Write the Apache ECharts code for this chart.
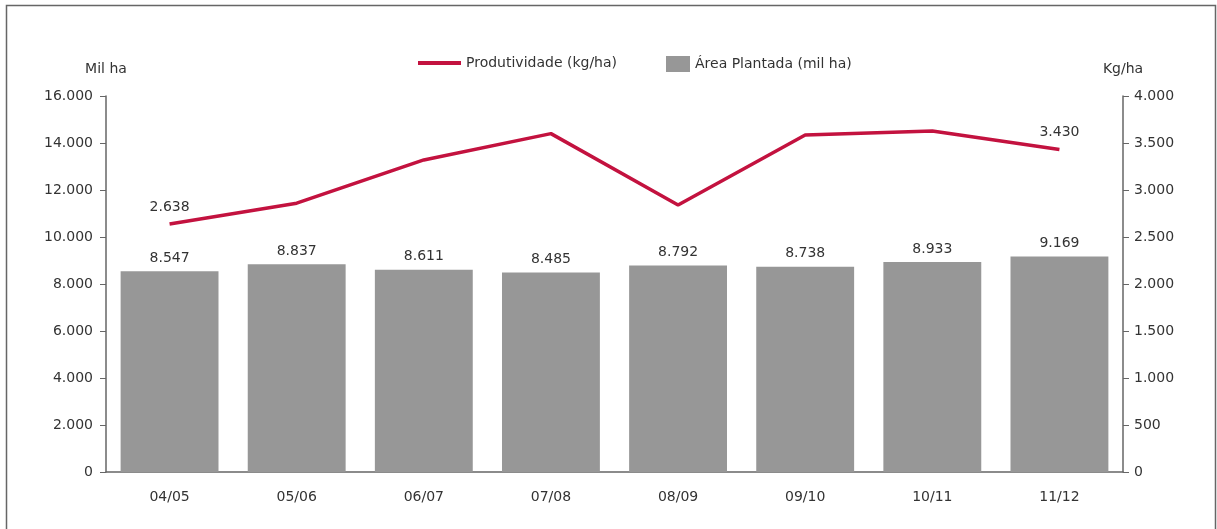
<!DOCTYPE html>
<html>
<head>
<meta charset="utf-8">
<script src="https://cdn.jsdelivr.net/npm/echarts@6/dist/echarts.min.js"></script>
<style>
  html, body { margin: 0; padding: 0; background: #fff; }
  #chart { width: 1217px; height: 529px; }
</style>
</head>
<body>
<div id="chart"></div>
<script>
const safras = ['04/05', '05/06', '06/07', '07/08', '08/09', '09/10', '10/11', '11/12'];
const areaPlantada = [8547, 8837, 8611, 8485, 8792, 8738, 8933, 9169];
const produtividade = [2638, 2860, 3320, 3600, 2840, 3585, 3628, 3430];
const labelProdutividade = [0, 7]; // only first and last points are labelled

const fmt = v => String(Math.round(v)).replace(/\B(?=(\d{3})+(?!\d))/g, '.');
const font = 'DejaVu Sans, Liberation Sans, Arial, sans-serif';
const txt = '#333';

const chart = echarts.init(document.getElementById('chart'));

chart.setOption({
  animation: false,
  textStyle: { fontFamily: font },
  graphic: [{
    type: 'rect',
    shape: { x: 6.5, y: 5.5, width: 1209, height: 600 },
    style: { fill: 'none', stroke: '#666', lineWidth: 1.5 },
    silent: true
  }],
  legend: [
    {
      data: ['Produtividade (kg/ha)'],
      left: 413, top: 51,
      icon: 'rect', itemWidth: 43, itemHeight: 4, itemGap: 8,
      textStyle: { color: txt, fontSize: 14, fontFamily: font }
    },
    {
      data: ['Área Plantada (mil ha)'],
      left: 661, top: 51,
      icon: 'rect', itemWidth: 24, itemHeight: 16, itemGap: 8,
      textStyle: { color: txt, fontSize: 14, fontFamily: font }
    }
  ],
  grid: { left: 106, right: 94, top: 96, bottom: 57 },
  xAxis: {
    type: 'category',
    data: safras,
    axisLine: { lineStyle: { color: '#666', width: 1.5 } },
    axisTick: { show: false },
    axisLabel: { color: txt, fontSize: 14, margin: 18, fontFamily: font }
  },
  yAxis: [
    {
      type: 'value',
      name: 'Mil ha',
      nameGap: 20,
      nameTextStyle: { color: txt, fontSize: 14, align: 'center', fontFamily: font },
      min: 0, max: 16000, interval: 2000,
      axisLine: { show: true, lineStyle: { color: '#666', width: 1.5 } },
      axisTick: { show: true, length: 6, lineStyle: { color: '#666' } },
      splitLine: { show: false },
      axisLabel: { color: txt, fontSize: 14, margin: 13, formatter: fmt, fontFamily: font }
    },
    {
      type: 'value',
      name: 'Kg/ha',
      nameGap: 20,
      nameTextStyle: { color: txt, fontSize: 14, align: 'center', fontFamily: font },
      min: 0, max: 4000, interval: 500,
      axisLine: { show: true, lineStyle: { color: '#666', width: 1.5 } },
      axisTick: { show: true, length: 6, lineStyle: { color: '#666' } },
      splitLine: { show: false },
      axisLabel: { color: txt, fontSize: 14, margin: 11, formatter: fmt, fontFamily: font }
    }
  ],
  series: [
    {
      name: 'Área Plantada (mil ha)',
      type: 'bar',
      yAxisIndex: 0,
      data: areaPlantada,
      barCategoryGap: '23%',
      itemStyle: { color: '#979797' },
      label: {
        show: true, position: 'top', distance: 6,
        color: txt, fontSize: 14, fontFamily: font,
        formatter: p => fmt(p.value)
      },
      z: 1
    },
    {
      name: 'Produtividade (kg/ha)',
      type: 'line',
      yAxisIndex: 1,
      data: produtividade.map((v, i) => ({
        value: v,
        label: { show: labelProdutividade.includes(i) }
      })),
      showSymbol: true,
      symbol: 'circle',
      symbolSize: 0.1,
      lineStyle: { color: '#C3123F', width: 3.5 },
      itemStyle: { color: '#C3123F' },
      label: {
        show: false, position: 'top', distance: 10,
        color: txt, fontSize: 14, fontFamily: font,
        formatter: p => fmt(p.value)
      },
      z: 3
    }
  ]
});
</script>
</body>
</html>
